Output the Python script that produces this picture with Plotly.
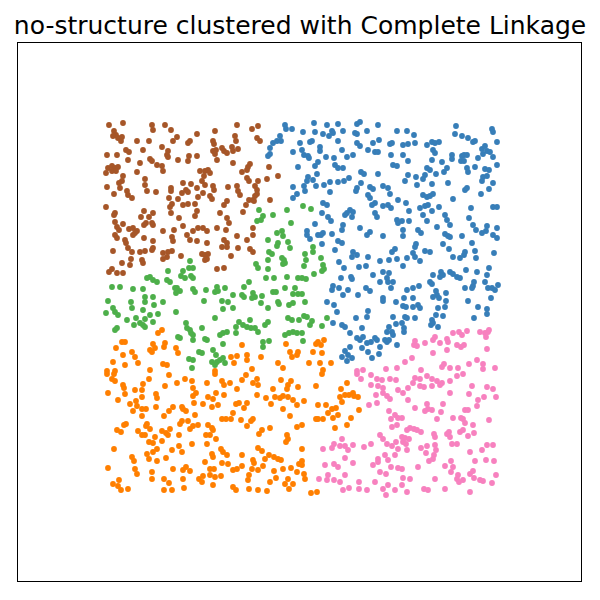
import plotly.graph_objects as go

# Raw (unscaled) sample features, grouped by the cluster label assigned by
# agglomerative clustering with complete linkage.
brown = [
(9,375),(14,369),(16,365),(13,364),(18,362),(21,359),(22,363),(23,377),(37,359),(49,359),(52,375),(53,370),(65,375),(71,370),(77,363),(73,359),(88,357),(90,359),(97,366),(7,345),(17,345),(26,350),(29,348),(28,340),(43,350),(62,353),(68,349),(67,345),(68,343),(50,341),(52,339),(40,337),(78,340),(89,344),(88,339),(97,344),(8,332),(12,334),(15,332),(18,333),(12,329),(16,329),(6,327),(37,328),(57,335),(62,334),(63,329),(100,329),(23,324),(22,319),(19,317),(20,312),(45,321),(45,315),(47,309),(7,313),(14,306),(27,309),(28,305),(32,302),(56,308),(71,312),(71,309),(83,317),(91,316),(86,310),(82,307),(88,308),(97,312),(69,302),(78,301),(72,296),(70,293),(83,295),(88,296),(95,296),(98,303),(6,293),(15,287),(14,285),(44,289),(53,287),(49,283),(41,283),(71,287),(79,282),(97,289),(95,284),(15,278),(23,276),(17,273),(19,270),(46,277),(44,275),(52,277),(53,275),(29,271),(33,272),(37,269),(33,265),(35,267),(15,265),(17,262),(25,260),(26,257),(44,262),(53,259),(63,269),(74,270),(83,274),(72,263),(73,259),(87,265),(93,269),(98,272),(90,260),(97,259),
(115,369),(137,375),(152,371),(158,374),(135,364),(136,359),(157,362),(160,359),(113,359),(114,356),(113,349),(116,350),(115,346),(122,352),(124,349),(127,347),(132,353),(133,349),(138,351),(117,340),(133,337),(150,336),(148,333),(147,330),(169,333),(105,329),(108,330),(110,327),(104,324),(102,319),(105,315),(142,328),(147,322),(149,319),(167,321),(178,324),(158,319),(155,314),(157,310),(157,306),(155,304),(113,314),(114,310),(128,313),(137,314),(138,309),(140,305),(103,307),(110,304),(112,301),(149,300),(153,300),(154,299),(170,300),(127,299),(124,295),(146,295),(143,288),(120,287),(127,282),(129,277),(103,272),(107,269),(117,272),(126,270),(153,272),(137,264),(153,265),(147,260),(107,257),(124,260),(127,257),
(13,249),(28,252),(32,248),(40,248),(45,249),(52,250),(53,252),(31,241),(30,235),(42,240),(43,237),(63,247),(68,248),(72,249),(67,243),(63,241),(81,244),(9,228),(12,231),(17,227),(23,227),(22,237),
(102,246),(105,245),(108,246),(105,240),(107,241),(122,253),(127,253),(138,252),(150,251),(153,248),(131,244),(117,231),(124,232),
]

blue = [
(185,375),(186,371),(192,371),(180,364),(177,359),(181,359),(173,357),(170,352),(170,346),(168,344),(200,357),(193,348),(198,333),(193,313),(197,306),(193,302),
(203,368),(214,377),(227,375),(238,376),(257,376),(260,378),(278,375),(297,369),(215,368),(223,366),(232,369),(233,367),(229,364),(243,369),(255,367),(257,366),(267,369),(212,359),(210,358),(238,359),(257,357),(260,354),(273,357),(279,360),(290,356),(292,357),(202,350),(220,353),(220,349),(242,350),(268,350),(275,348),(278,348),(291,345),(204,345),(208,344),(209,342),(226,343),(234,342),(247,343),(253,345),(218,338),(215,334),(235,335),(238,332),(243,332),(293,335),(297,334),(217,326),(261,328),(264,326),(278,326),(208,323),(207,319),(213,320),(249,322),(244,319),(238,318),(230,318),(204,314),(216,314),(224,315),(261,317),(257,312),(256,309),(205,309),(230,308),(270,313),(273,311),(283,314),(288,312),(290,306),(268,305),(270,302),(275,297),(298,300),(223,297),(227,295),(250,290),(247,287),(253,288),(272,295),(283,294),(288,295),(291,292),(222,287),(228,283),(231,279),(245,285),(252,283),(275,287),(277,283),(297,280),(215,276),(243,275),(242,270),(260,272),(270,268),(267,265),(298,277),(207,269),(207,265),(223,267),(221,265),(218,265),(232,266),(210,261),(238,259),(242,257),(283,264),(222,256),
(307,369),(314,365),(315,357),(308,356),(303,355),(356,374),(355,366),(362,364),(368,362),(373,358),(375,359),(392,371),(393,368),(397,358),(327,355),(332,358),(335,357),(339,358),(333,350),(335,347),(303,345),(308,339),(332,340),(342,338),(352,345),(352,341),(362,344),(364,345),(367,345),(361,339),(364,339),(378,342),(382,351),(385,354),(387,349),(390,348),(393,343),(383,346),(327,332),(330,330),(347,332),(344,328),(325,325),(323,321),(336,326),(367,332),(368,328),(375,333),(385,331),(389,330),(397,335),(308,325),(305,319),(316,323),(317,315),(332,316),(348,317),(383,323),(387,324),(382,319),(365,310),(367,312),(381,306),(389,311),(393,317),(323,305),(327,303),(330,304),(333,306),(353,301),(306,297),(320,292),(325,294),(328,295),(339,293),(371,292),(393,293),(397,293),(309,289),(332,289),(323,285),(327,279),(345,285),(347,280),(350,275),(369,282),(302,279),(309,279),(318,270),(321,267),(337,273),(373,275),(376,270),(387,274),(397,272),(303,270),(303,264),(345,266),(348,264),(350,263),(362,264),(382,267),(386,269),(393,265),(397,262),(316,256),(343,256),(372,257),
(235,250),(253,248),(257,245),(252,243),(268,243),(292,248),(295,251),(239,238),(244,232),(259,233),(266,234),(280,239),(289,240),(297,241),(241,222),(251,223),(252,221),(273,225),(283,228),(289,227),(287,222),(288,218),(280,218),(293,218),(233,214),(232,210),(239,212),(248,210),(243,205),(258,205),(266,212),(270,209),(291,212),(283,202),(283,199),(227,198),(234,195),(237,188),(268,189),(267,183),(256,182),(296,198),(233,177),(242,175),(245,173),(250,167),(262,172),(293,183),(296,176),(289,173),(292,168),(287,168),(257,162),(260,160),(263,163),(267,157),(271,158),(275,162),(277,160),(285,160),(287,158),(289,160),(293,165),(250,153),(245,149),(248,145),(242,143),(252,142),(247,139),(280,153),(279,146),(262,152),(268,148),(272,142),(297,155),
(315,253),(325,249),(330,248),(349,251),(365,248),(375,249),(394,247),(307,242),(313,247),(315,243),(320,239),(353,243),(360,242),(364,245),(376,242),(303,234),(341,228),(340,223),(343,225),(350,228),(353,226),(357,223),(360,222),(333,225),(330,218),(366,230),(377,228),(389,232),(387,225),(313,212),(307,210),(319,214),(332,216),(336,209),(337,205),(339,202),(346,207),(333,203),(365,212),(372,212),(373,214),(374,218),(385,218),(388,212),(392,212),(395,210),(391,202),(398,215),(304,202),(313,202),(303,194),(306,193),(313,193),(318,195),(320,192),(346,199),(345,193),(338,192),(368,199),(378,193),(387,191),(305,183),(307,182),(315,182),(336,185),(343,184),(387,186),(374,182),(332,180),(331,175),(333,177),(338,173),(302,177),(304,172),(304,168),
]

green = [
(159,290),(163,284),(161,280),(157,279),(173,285),(187,290),(191,277),(168,260),(177,267),(182,269),(183,264),(178,257),(188,258),
(203,294),(211,291),
(90,239),(89,232),(83,229),(93,232),(68,229),(81,224),(85,222),(91,224),(93,222),(47,222),(50,223),(53,220),(57,218),(67,220),(70,218),(12,213),(20,213),(33,211),(43,211),(75,212),(77,212),(80,209),(76,207),(93,211),(95,208),(45,203),(53,203),(8,199),(31,198),(45,198),(63,198),(54,195),(32,192),(13,192),(15,188),(18,185),(6,187),(43,190),(50,185),(58,186),(76,188),(27,180),(36,182),(45,181),(40,177),(43,175),(45,173),(34,175),(53,178),(17,172),(15,170),(86,177),(87,172),(90,170),(91,167),(93,165),(93,160),(78,163),(80,162),(89,141),(93,140),(92,132),(99,148),
(169,248),(172,246),(177,254),(190,252),(168,240),(182,242),(184,240),(185,237),(183,236),(156,236),(158,232),(168,231),(166,222),(174,222),(187,223),(198,222),(149,218),(144,213),(106,210),(117,213),(125,212),(115,208),(118,209),(153,207),(155,203),(152,202),(142,205),(144,203),(133,205),(173,208),(176,208),(185,212),(195,212),(193,206),(198,206),(162,204),(178,198),(179,196),(189,195),(193,197),(104,199),(122,199),(128,198),(133,192),(123,191),(161,197),(168,192),(115,182),(188,182),(192,180),(199,180),(150,180),(139,178),(143,175),(147,173),(151,172),(136,173),(155,172),(165,175),(168,178),(102,172),(105,161),(107,160),(120,165),(123,167),(127,168),(136,167),(158,168),(169,159),(163,158),(163,153),(185,165),(189,167),(193,168),(197,167),(123,156),(113,150),(116,145),(120,140),(123,142),(125,137),(117,138),(112,138),(115,135),(102,147),
(205,246),(206,240),(204,234),(213,253),(213,248),(221,242),(223,235),(224,231),(222,229),(214,226),(202,222),(206,221),(202,206),(205,198),(204,184),(207,183),(212,179),(210,175),(222,174),(227,182),(202,167),(203,159),
]

orange = [
(62,170),(58,167),(22,158),(25,158),(16,152),(53,156),(55,152),(50,150),(52,148),(65,157),(64,153),(76,152),(78,147),(32,148),(23,145),(35,143),(13,138),(25,135),(38,137),(63,136),(67,135),(50,130),(7,129),(15,129),
(142,155),(147,145),(137,144),(131,143),(134,137),(147,140),(152,131),(161,143),(178,137),(186,156),(190,148),(198,148),(197,145),(192,143),(183,132),(115,129),
(218,158),(216,156),(221,155),(224,160),(213,148),(222,147),(209,137),(220,137),(231,137),(223,130),
(7,126),(14,126),(12,121),(15,119),(23,115),(24,112),(25,106),(8,107),(49,121),(69,125),(77,117),(85,121),(92,119),(93,112),(96,107),(93,104),(35,110),(42,110),(43,116),(42,103),(56,106),(57,102),(65,114),(18,100),(30,96),(36,99),(37,94),(42,91),(33,89),(46,91),(56,93),(73,93),(69,89),(64,84),(82,93),(86,89),(83,91),(94,97),(95,85),(26,76),(24,75),(42,84),(47,76),(46,74),(50,71),(17,70),(21,68),(38,69),(42,65),(45,65),(55,63),(62,69),(66,67),(70,71),(68,65),(79,65),(80,76),(82,79),(88,79),(93,74),(98,75),(90,71),(49,58),(53,57),(62,59),(14,51),(32,43),(34,39),(47,46),(53,48),(57,51),(49,41),(57,39),(72,50),(79,54),(82,48),(92,56),(66,42),(8,32),(35,31),(37,26),(52,28),(73,31),(83,30),(86,33),(90,29),(13,16),(19,20),(18,14),(21,10),(28,11),(52,21),(64,21),(69,17),(83,21),(84,12),(99,21),(64,10),(72,10),
(115,126),(146,125),(107,117),(122,119),(124,115),(130,117),(142,120),(153,117),(157,121),(158,115),(173,111),(181,120),(188,115),(191,119),(187,111),(198,113),(116,107),(124,105),(137,111),(108,103),(113,101),(157,105),(166,102),(175,103),(180,102),(183,104),(188,103),(193,100),(103,96),(112,93),(118,95),(136,96),(139,97),(147,97),(144,92),(171,96),(183,91),(190,84),(197,95),(133,87),(122,81),(126,81),(131,81),(141,80),(151,79),(153,81),(147,74),(108,75),(112,72),(113,70),(110,65),(106,65),(116,61),(107,56),(162,70),(159,66),(170,72),(187,65),(188,61),(186,58),(197,73),(158,52),(162,49),(169,45),(174,43),(178,41),(181,40),(165,41),(121,51),(123,48),(127,45),(112,46),(113,43),(128,36),(122,37),(142,45),(153,40),(154,37),(152,31),(142,34),(105,38),(110,31),(114,31),(133,30),(137,31),(149,25),(158,30),(163,34),(174,29),(183,31),(191,32),(199,36),(197,28),(188,21),(103,24),(110,25),(115,23),(121,24),(102,18),(113,15),(133,13),(136,10),(148,20),(149,11),(158,10),(167,9),(170,18),(176,22),(185,16),(193,16),(189,11),
(222,126),(216,114),(241,111),(247,117),(245,105),(240,103),(242,98),(249,105),(253,107),(254,104),(258,103),(204,99),(218,95),(226,95),(236,92),(232,91),(228,87),(238,85),(259,90),(216,81),(218,81),(223,81),(233,82),(251,82),(247,75),(235,72),(202,75),(202,51),(202,39),(202,35),(204,26),(205,21),(211,7),(217,8),
]

pink = [
(257,129),(263,130),(286,131),(297,132),
(335,163),(333,160),(340,157),(347,161),(348,158),(353,167),(359,168),(362,165),(367,169),(380,168),(385,167),(388,168),(386,163),(389,170),(315,159),(314,155),(317,154),(325,157),(357,155),(361,153),(364,155),(347,150),(387,151),(305,138),(312,142),(333,147),(342,133),(344,136),(350,132),(358,132),(369,136),(377,140),(383,136),(383,131),(321,130),(395,132),
(257,126),(271,125),(277,121),(261,121),(282,120),(290,121),(296,120),(271,115),(278,114),(283,112),(287,104),(290,101),(276,105),(269,95),(277,97),(283,107),(298,110),(289,89),(295,85),(291,81),(298,82),(297,75),(292,73),(280,65),(283,61),(287,56),(296,58),(292,54),(271,56),(264,53),(242,61),(234,56),(240,54),(245,54),(248,50),(232,52),(223,51),(253,55),(285,45),(288,40),(278,41),(295,45),(298,51),(225,35),(234,36),(238,33),(245,42),(253,37),(273,35),(278,38),(291,33),(286,26),(280,28),(298,32),(228,25),(227,20),(234,20),(240,18),(245,25),(259,18),(275,18),(219,21),(243,10),(249,12),(259,11),(267,10),(283,11),(288,15),(286,5),(295,10),
(315,122),(320,121),(327,124),(332,121),(337,119),(342,117),(350,119),(357,124),(363,126),(372,114),(308,112),(313,117),(320,114),(324,113),(332,114),(340,115),(303,107),(350,107),(369,106),(387,113),(393,111),(384,103),(378,100),(396,103),(308,100),(315,92),(327,96),(328,91),(325,89),(332,90),(343,96),(341,88),(337,81),(377,94),(365,90),(368,90),(302,82),(353,82),(361,82),(363,81),(365,77),(373,75),(389,80),(310,72),(314,71),(317,70),(321,68),(307,70),(334,66),(335,63),(347,66),(349,68),(350,63),(360,68),(363,70),(368,64),(374,67),(302,63),(305,62),(309,61),(303,58),(306,56),(307,50),(352,56),(357,56),(321,52),(326,47),(327,54),(335,55),(336,50),(334,45),(333,41),(329,39),(370,48),(382,50),(387,55),(393,55),(351,39),(345,34),(353,33),(351,28),(375,39),(386,40),(394,39),(302,31),(318,33),(303,22),(310,21),(335,21),(358,25),(357,21),(359,18),(363,20),(370,26),(373,29),(374,22),(380,20),(383,19),(392,17),(396,25),(302,15),(307,8),(324,11),(328,10),(345,11),(370,8),
]

# per-feature standardisation (StandardScaler-style)
FEAT1_MEAN, FEAT1_STD = 199.5, 112.6
FEAT2_MEAN, FEAT2_STD = 188.0, 107.6

clusters = [
    (blue, "#377eb8"),
    (orange, "#ff7f00"),
    (green, "#4daf4a"),
    (pink, "#f781bf"),
    (brown, "#a65628"),
]

fig = go.Figure()
for pts, color in clusters:
    xs = [(p[0] - FEAT1_MEAN) / FEAT1_STD for p in pts]
    ys = [(p[1] - FEAT2_MEAN) / FEAT2_STD for p in pts]
    fig.add_trace(go.Scatter(
        x=xs, y=ys, mode="markers",
        marker=dict(color=color, size=5.8, line=dict(width=0)),
        showlegend=False, hoverinfo="skip",
    ))

axis_style = dict(
    range=[-2.5, 2.5], showgrid=False, zeroline=False,
    showticklabels=False, ticks="", showline=True, mirror=True,
    linecolor="black", linewidth=1,
)
fig.update_layout(
    width=600, height=600,
    margin=dict(l=18, r=19, t=43, b=19),
    paper_bgcolor="white", plot_bgcolor="white",
    xaxis=axis_style, yaxis=axis_style,
    title=dict(
        text="no-structure clustered with Complete Linkage",
        x=0.5, xanchor="center", y=1 - 25 / 600, yanchor="middle",
        yref="container",
        font=dict(family="DejaVu Sans", size=25, color="black"),
    ),
)
fig.write_html("out.html")
